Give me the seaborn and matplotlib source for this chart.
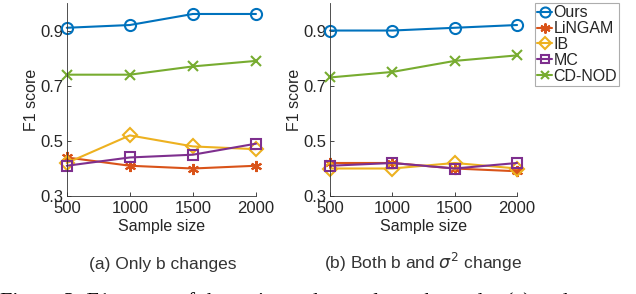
import numpy as np
import pandas as pd
import matplotlib
matplotlib.use("Agg")
import matplotlib.pyplot as plt
import seaborn as sns

sizes = [500, 1000, 1500, 2000]
methods = ["Ours", "LiNGAM", "IB", "MC", "CD-NOD"]

# (a) Only b changes
a_ours = [0.91, 0.92, 0.96, 0.96]
a_lingam = [0.44, 0.41, 0.40, 0.41]
a_ib = [0.42, 0.52, 0.48, 0.47]
a_mc = [0.41, 0.44, 0.45, 0.49]
a_cdnod = [0.74, 0.74, 0.77, 0.79]

# (b) Both b and sigma^2 change
b_ours = [0.90, 0.90, 0.91, 0.92]
b_lingam = [0.42, 0.42, 0.40, 0.39]
b_ib = [0.40, 0.40, 0.42, 0.40]
b_mc = [0.41, 0.42, 0.40, 0.42]
b_cdnod = [0.73, 0.75, 0.79, 0.81]

yticks = [0.3, 0.5, 0.7, 0.9]
captions = ["(a) Only b changes", r"(b) Both b and $\sigma^2$ change"]

colors = ["#0072BD", "#D95319", "#EDB120", "#7E2F8E", "#77AC30"]
markers = ["o", (6, 2, 0), "D", "s", "x"]
msizes = [8, 8, 7, 7, 7]

sns.set_style("ticks")
plt.rcParams["font.family"] = ["Liberation Sans", "DejaVu Sans"]
plt.rcParams["mathtext.fontset"] = "dejavusans"

fig = plt.figure(figsize=(6.36, 2.94), dpi=100)
axA = fig.add_axes([0.105, 0.333, 0.2975, 0.657])
axB = fig.add_axes([0.519, 0.333, 0.294, 0.657])

textc = "#262626"
for ax, data in [(axA, [a_ours, a_lingam, a_ib, a_mc, a_cdnod]),
                 (axB, [b_ours, b_lingam, b_ib, b_mc, b_cdnod])]:
    for i, (m, vals) in enumerate(zip(methods, data)):
        df = pd.DataFrame({"Sample size": sizes, "F1": vals})
        sns.lineplot(data=df, x="Sample size", y="F1", ax=ax, color=colors[i],
                     marker=markers[i], markersize=msizes[i], linewidth=1.5,
                     markerfacecolor="none", markeredgecolor=colors[i],
                     markeredgewidth=1.5, label=m, legend=False)
    ax.set_xlim(500, 2000)
    ax.set_ylim(0.3, 1.0)
    ax.set_xticks(sizes)
    ax.set_yticks(yticks)
    ax.set_yticklabels([f"{v:.1f}" for v in yticks])
    ax.set_xlabel("Sample size", fontsize=11.5, color=textc, labelpad=2)
    ax.set_ylabel("F1 score", fontsize=11.5, color=textc, labelpad=1)
    ax.tick_params(direction="in", length=3, width=0.6, labelsize=12,
                   colors=textc)
    ax.tick_params(axis="x", pad=3.5)
    ax.tick_params(axis="y", pad=2.5)
    for s in ["top", "right"]:
        ax.spines[s].set_visible(False)
    for s in ["left", "bottom"]:
        ax.spines[s].set_color("#333333")
        ax.spines[s].set_linewidth(0.6)
    for ln in ax.lines:
        ln.set_clip_on(False)

handles = axB.lines[:5]
leg = fig.legend(handles, methods, loc="upper left",
                 bbox_to_anchor=(535 / 636, 1 - 3 / 294), frameon=True,
                 fancybox=False, fontsize=11.5, handlelength=0.9,
                 handletextpad=0.1, borderpad=0.15, labelspacing=0.05,
                 borderaxespad=0, markerscale=0.9)
leg.get_frame().set_edgecolor("#999999")
leg.get_frame().set_linewidth(0.8)
for t in leg.get_texts():
    t.set_color(textc)

fig.text(163 / 636, 1 - 264 / 294, captions[0], ha="center", va="center",
         fontsize=12.5, color="#333333")
fig.text(423 / 636, 1 - 262 / 294, captions[1], ha="center", va="center",
         fontsize=12.5, color="#333333")
fig.text(0.0, 1 - 306.5 / 294,
         "Figure 3: F1 scores of the estimated causal graphs under (a) and",
         ha="left", va="baseline", fontsize=16,
         family=["Liberation Serif", "DejaVu Serif"], color="black")

fig.savefig("out.png", dpi=100)
